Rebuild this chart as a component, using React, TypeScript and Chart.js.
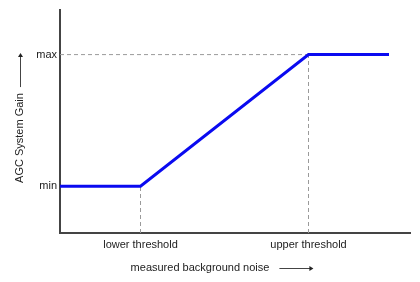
import React, { useEffect, useRef } from "react";
import { Chart, registerables } from "chart.js";

Chart.register(...registerables);

// ---- data ----
const xTickValues = [23, 71];
const xTickLabels = ["lower threshold", "upper threshold"];
const yTickValues = [21, 80];
const yTickLabels = ["min", "max"];
const gainX = [0, 23, 71, 94];
const gainY = [21, 21, 80, 80];
const xTitle = "measured background noise";
const yTitle = "AGC System Gain";

const FONT = "'Liberation Sans', Arial, sans-serif";
const AXIS = "#444444";
const DASH = "#9a9a9a";

const titlesPlugin = {
  id: "titlesArrows",
  afterDraw(chart: any) {
    const ctx = chart.ctx;
    const { left, right, bottom } = chart.chartArea;
    ctx.save();
    ctx.fillStyle = "#222";
    ctx.strokeStyle = "#444";
    ctx.font = `11px ${FONT}`;
    // x title
    const xt = ctx.measureText(xTitle).width;
    const cx = 200;
    const ty = bottom + 35;
    ctx.textAlign = "center";
    ctx.textBaseline = "middle";
    ctx.fillText(xTitle, cx, ty);
    const ax0 = cx + xt / 2 + 10;
    const ax1 = ax0 + 34;
    ctx.lineWidth = 1;
    ctx.beginPath();
    ctx.moveTo(ax0, ty + 0.5);
    ctx.lineTo(ax1 - 2, ty + 0.5);
    ctx.stroke();
    ctx.fillStyle = "#222";
    ctx.beginPath();
    ctx.moveTo(ax1, ty + 0.5);
    ctx.lineTo(ax1 - 4, ty - 2);
    ctx.lineTo(ax1 - 4, ty + 3);
    ctx.closePath();
    ctx.fill();
    // y title
    const yx = 20;
    const yt = ctx.measureText(yTitle).width;
    const yc = 138;
    ctx.save();
    ctx.translate(yx, yc);
    ctx.rotate(-Math.PI / 2);
    ctx.textAlign = "center";
    ctx.fillText(yTitle, 0, 0);
    ctx.restore();
    const by0 = yc - yt / 2 - 6;
    const by1 = by0 - 34;
    ctx.beginPath();
    ctx.moveTo(yx + 0.5, by0);
    ctx.lineTo(yx + 0.5, by1 + 2);
    ctx.stroke();
    ctx.beginPath();
    ctx.moveTo(yx + 0.5, by1);
    ctx.lineTo(yx - 2, by1 + 4);
    ctx.lineTo(yx + 3, by1 + 4);
    ctx.closePath();
    ctx.fill();
    ctx.restore();
  },
};

export default function App() {
  const ref = useRef<HTMLCanvasElement>(null);
  useEffect(() => {
    document.body.style.margin = "0";
    const dashStyle = {
      borderColor: DASH,
      borderWidth: 1,
      borderDash: [4, 3],
      pointRadius: 0,
      fill: false,
      showLine: true,
    };
    const chart = new Chart(ref.current!, {
      type: "scatter",
      data: {
        datasets: [
          {
            data: gainX.map((x, i) => ({ x, y: gainY[i] })),
            borderColor: "#0a0af0",
            borderWidth: 3,
            pointRadius: 0,
            showLine: true,
            fill: false,
          },
          {
            ...dashStyle,
            data: [
              { x: xTickValues[0], y: 0 },
              { x: xTickValues[0], y: yTickValues[0] },
            ],
          },
          {
            ...dashStyle,
            data: [
              { x: xTickValues[1], y: 0 },
              { x: xTickValues[1], y: yTickValues[1] },
            ],
          },
          {
            ...dashStyle,
            data: [
              { x: 0, y: yTickValues[1] },
              { x: xTickValues[1], y: yTickValues[1] },
            ],
          },
        ],
      },
      options: {
        animation: false,
        responsive: false,
        layout: { padding: { top: 10, right: 10, left: 0, bottom: 0 } },
        plugins: { legend: { display: false }, tooltip: { enabled: false } },
        scales: {
          x: {
            type: "linear",
            min: 0,
            max: 100,
            grid: { display: false, drawTicks: false },
            border: { color: AXIS, width: 2 },
            afterBuildTicks: (s: any) => {
              s.ticks = xTickValues.map((v) => ({ value: v }));
            },
            afterFit: (s: any) => {
              s.height = 49;
            },
            ticks: {
              padding: 5,
              color: "#222",
              font: { family: FONT, size: 11 },
              maxRotation: 0,
              autoSkip: false,
              callback: (v: any) => {
                const i = xTickValues.indexOf(Number(v));
                return i >= 0 ? xTickLabels[i] : "";
              },
            },
          },
          y: {
            type: "linear",
            min: 0,
            max: 100,
            grid: { display: false, drawTicks: false },
            border: { color: AXIS, width: 2 },
            afterBuildTicks: (s: any) => {
              s.ticks = yTickValues.map((v) => ({ value: v }));
            },
            afterFit: (s: any) => {
              s.width = 60;
            },
            ticks: {
              padding: 3,
              color: "#222",
              font: { family: FONT, size: 11 },
              autoSkip: false,
              callback: (v: any) => {
                const i = yTickValues.indexOf(Number(v));
                return i >= 0 ? yTickLabels[i] : "";
              },
            },
          },
        },
      },
      plugins: [titlesPlugin],
    } as any);
    return () => chart.destroy();
  }, []);
  return (
    <div style={{ position: "fixed", left: 0, top: 0, width: 420, height: 282, background: "#fff" }}>
      <canvas ref={ref} width={420} height={282} style={{ display: "block" }} />
    </div>
  );
}
